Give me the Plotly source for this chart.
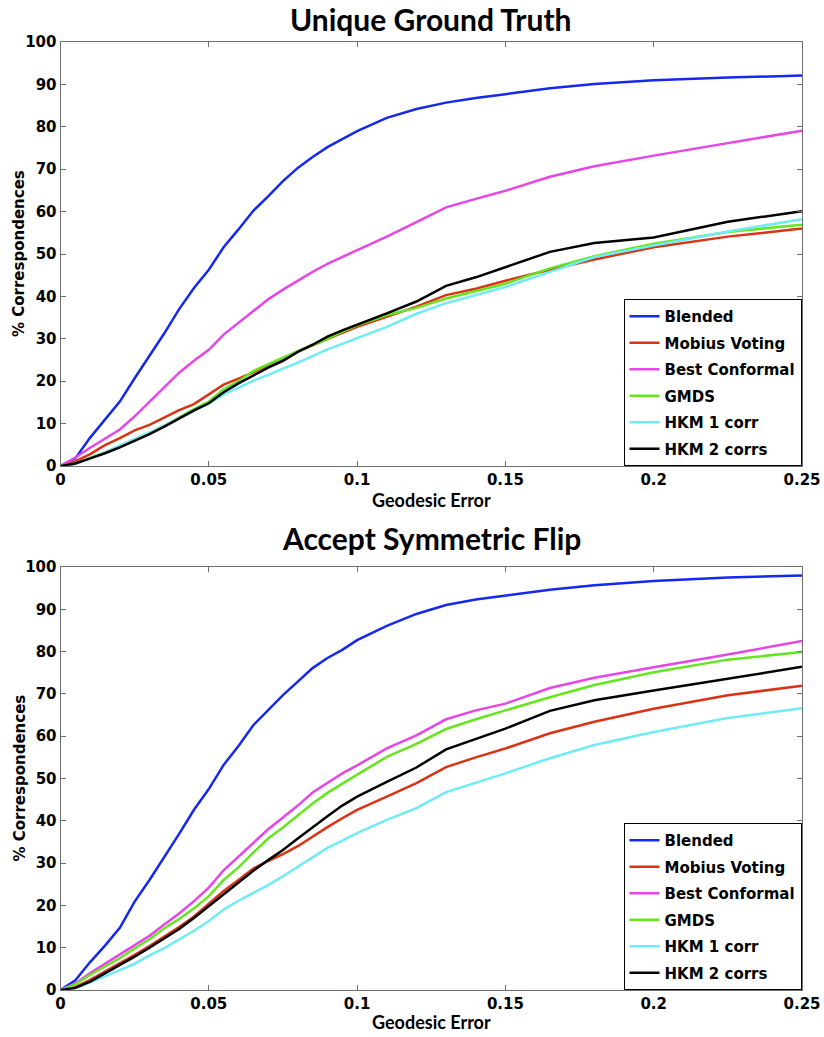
import plotly.graph_objects as go

# ---------------- data ----------------
x_err = [0, 0.005, 0.01, 0.015, 0.02, 0.025, 0.03, 0.035, 0.04, 0.045, 0.05,
         0.055, 0.06, 0.065, 0.07, 0.075, 0.08, 0.085, 0.09, 0.095, 0.1,
         0.11, 0.12, 0.13, 0.14, 0.15, 0.165, 0.18, 0.2, 0.225, 0.25]

series_names = ["Blended", "Mobius Voting", "Best Conformal", "GMDS", "HKM 1 corr", "HKM 2 corrs"]
series_colors = ["#1428f0", "#dc3214", "#e646e6", "#64e61e", "#6eebf5", "#000000"]

# Unique Ground Truth
u_blended = [0, 1.8, 6.7, 11, 15.2, 20.7, 26, 31.3, 37, 42, 46.3, 51.6, 55.8, 60.2, 63.6, 67.2,
             70.3, 72.9, 75.2, 77.1, 79, 82.1, 84.2, 85.7, 86.8, 87.7, 89.1, 90.1, 91, 91.6, 92.1]
u_mobius = [0, 1.1, 2.8, 4.9, 6.6, 8.4, 9.7, 11.4, 13.2, 14.6, 16.8, 19.2, 20.6, 22.1, 23.8, 25.2,
            27, 28.5, 30, 31.4, 32.8, 35.2, 37.6, 40.3, 41.8, 43.7, 46.3, 48.7, 51.6, 54.1, 56]
u_bestconf = [0, 2, 4.3, 6.4, 8.6, 11.7, 15.2, 18.6, 22, 24.8, 27.4, 31, 33.7, 36.6, 39.3, 41.6,
              43.8, 45.8, 47.7, 49.3, 51, 54.1, 57.5, 61, 63, 64.9, 68.2, 70.7, 73.2, 76.2, 79.1]
u_gmds = [0, 0.6, 1.9, 3.2, 4.7, 6.2, 7.8, 9.5, 11.5, 13.4, 15.2, 18.1, 20, 22.4, 24, 25.6,
          27.1, 28.5, 30, 31.7, 33.2, 35.6, 37.3, 39.5, 41.3, 43, 46.6, 49.5, 52.4, 55.2, 56.9]
u_hkm1 = [0, 0.5, 1.8, 3.2, 4.8, 6.3, 7.9, 9.6, 11.3, 13, 14.7, 16.9, 18.5, 20.1, 21.5, 22.9,
          24.4, 25.9, 27.5, 28.8, 30.1, 32.8, 35.9, 38.4, 40.3, 42.2, 45.8, 49.3, 52, 55.3, 58.2]
u_hkm2 = [0, 0.6, 1.8, 3, 4.4, 6, 7.5, 9.3, 11.2, 13.1, 14.8, 17.4, 19.5, 21.3, 23.2, 24.8,
          26.9, 28.6, 30.5, 32, 33.3, 36, 38.8, 42.5, 44.5, 46.9, 50.5, 52.6, 53.9, 57.6, 60.1]

# Accept Symmetric Flip
s_blended = [0, 2.3, 6.6, 10.5, 14.7, 20.9, 26, 31.3, 36.9, 42.6, 47.5, 53.2, 57.7, 62.6, 66.2, 69.7,
             72.9, 76.1, 78.5, 80.4, 82.7, 86.1, 88.9, 91, 92.3, 93.2, 94.6, 95.7, 96.7, 97.5, 98]
s_mobius = [0, 0.7, 2.4, 4.3, 6.2, 8.3, 10.4, 12.6, 14.9, 17.4, 20.3, 23.4, 26, 28.7, 30.5, 32.1,
            34, 36.3, 38.5, 40.6, 42.6, 45.7, 48.9, 52.7, 55, 57.1, 60.7, 63.4, 66.5, 69.7, 71.9]
s_bestconf = [0, 1.5, 4, 6.2, 8.3, 10.5, 12.8, 15.5, 18.1, 21, 24.2, 28.3, 31.5, 34.8, 38, 40.8,
              43.6, 46.7, 49, 51.2, 53.1, 57.1, 60.2, 64, 66.1, 67.7, 71.4, 73.8, 76.3, 79.3, 82.5]
s_gmds = [0, 1.3, 3.6, 5.6, 7.5, 9.8, 12, 14.6, 16.8, 19.3, 22.2, 26, 29, 32.5, 35.8, 38.4,
          41.3, 44.1, 46.6, 48.8, 50.9, 55.1, 58.2, 61.7, 64, 66.1, 69.2, 72.1, 75.1, 78.1, 79.9]
s_hkm1 = [0, 0.4, 1.8, 3.2, 4.7, 6.2, 8.2, 9.9, 11.9, 14, 16.3, 19, 21.1, 22.9, 24.8, 26.9,
          29.1, 31.3, 33.6, 35.3, 37.1, 40.2, 43, 46.8, 49, 51.2, 54.8, 57.9, 61, 64.3, 66.6]
s_hkm2 = [0, 0.5, 2, 3.9, 5.8, 7.9, 10, 12.2, 14.4, 17, 19.8, 22.6, 25.2, 28.2, 30.7, 33.1,
          35.8, 38.5, 41.1, 43.6, 45.7, 49.2, 52.6, 56.9, 59.4, 61.8, 66, 68.5, 70.8, 73.6, 76.4]

top_series = [u_blended, u_mobius, u_bestconf, u_gmds, u_hkm1, u_hkm2]
bot_series = [s_blended, s_mobius, s_bestconf, s_gmds, s_hkm1, s_hkm2]

y_ticks = [0, 10, 20, 30, 40, 50, 60, 70, 80, 90, 100]
x_ticks = [0, 0.05, 0.1, 0.15, 0.2, 0.25]
x_tick_labels = ["0", "0.05", "0.1", "0.15", "0.2", "0.25"]

titles = ["Unique Ground Truth", "Accept Symmetric Flip"]
x_title = "Geodesic Error"
y_title = "% Correspondences"

# ---------------- figure ----------------
W, H = 824, 1037
fig = go.Figure()

for i, (name, col) in enumerate(zip(series_names, series_colors)):
    fig.add_trace(go.Scatter(x=x_err, y=top_series[i], mode="lines", name=name,
                             line=dict(color=col, width=2.5), xaxis="x", yaxis="y",
                             legend="legend", legendgroup="t" + str(i)))
for i, (name, col) in enumerate(zip(series_names, series_colors)):
    fig.add_trace(go.Scatter(x=x_err, y=bot_series[i], mode="lines", name=name,
                             line=dict(color=col, width=2.5), xaxis="x2", yaxis="y2",
                             legend="legend2", legendgroup="b" + str(i)))

def px_x(p):
    return p / W

def px_y(p):
    return 1 - p / H

x_dom = [px_x(60.5), px_x(802)]
top_dom = [px_y(466), px_y(42)]
bot_dom = [px_y(990), px_y(567)]

axis_col = "#6e6e6e"
tick_font = dict(family="DejaVu Sans", size=15, color="black", weight="bold")

xa = dict(range=[0, 0.25], tickvals=x_ticks, ticktext=x_tick_labels, ticks="inside",
          ticklen=5, tickcolor=axis_col, showline=True, linecolor=axis_col, linewidth=1,
          mirror="ticks", showgrid=False, zeroline=False, tickfont=tick_font, domain=x_dom,
          automargin=False)
ya = dict(range=[0, 100], tickvals=y_ticks, ticks="inside", ticklen=5, tickcolor=axis_col,
          showline=True, linecolor=axis_col, linewidth=1, mirror="ticks", showgrid=False,
          zeroline=False, tickfont=tick_font, automargin=False)

legend_common = dict(bgcolor="white", bordercolor="black", borderwidth=1,
                     font=dict(family="DejaVu Sans", size=15, color="black", weight="bold"),
                     xanchor="right", yanchor="bottom", x=px_x(801.5),
                     tracegroupgap=4, itemwidth=30)

fig.update_layout(
    width=W, height=H, margin=dict(l=0, r=0, t=0, b=0, autoexpand=False),
    paper_bgcolor="white", plot_bgcolor="white",
    xaxis=dict(**xa, anchor="y"),
    yaxis=dict(**ya, domain=top_dom, anchor="x"),
    xaxis2=dict(**xa, anchor="y2"),
    yaxis2=dict(**ya, domain=bot_dom, anchor="x2"),
    legend=dict(**legend_common, y=top_dom[0]),
    legend2=dict(**legend_common, y=bot_dom[0]),
    showlegend=True,
)

title_font = dict(family="Lato", size=30, color="black", weight="bold")
label_font = dict(family="Lato", size=18, color="black", weight="bold")
ytitle_font = dict(family="DejaVu Sans", size=15, color="black", weight="bold")

ann = []
for dom, t, ty, gy in [(top_dom, titles[0], 19, 500), (bot_dom, titles[1], 538, 1022)]:
    ann.append(dict(text=t, x=(x_dom[0] + x_dom[1]) / 2, y=px_y(ty), xref="paper", yref="paper",
                    xanchor="center", yanchor="middle", showarrow=False, font=title_font))
    ann.append(dict(text=x_title, x=(x_dom[0] + x_dom[1]) / 2, y=px_y(gy), xref="paper",
                    yref="paper", xanchor="center", yanchor="middle", showarrow=False, font=label_font))
    ann.append(dict(text=y_title, x=px_x(19), y=(dom[0] + dom[1]) / 2, xref="paper", yref="paper",
                    xanchor="center", yanchor="middle", showarrow=False, textangle=-90, font=ytitle_font))
fig.update_layout(annotations=ann)

fig.write_html("out.html", config={"displayModeBar": False},
               post_script="document.body.style.margin='0px';document.body.style.overflow='hidden';")
